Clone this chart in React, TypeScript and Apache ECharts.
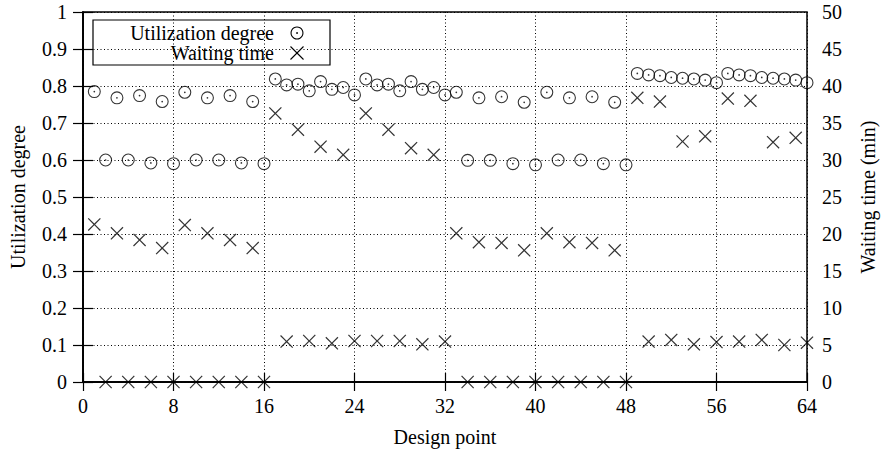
import React, { useEffect, useRef } from "react";
import * as echarts from "echarts";

const designPoints = [
  1, 2, 3, 4, 5, 6, 7, 8, 9, 10, 11, 12, 13, 14, 15, 16,
  17, 18, 19, 20, 21, 22, 23, 24, 25, 26, 27, 28, 29, 30, 31, 32,
  33, 34, 35, 36, 37, 38, 39, 40, 41, 42, 43, 44, 45, 46, 47, 48,
  49, 50, 51, 52, 53, 54, 55, 56, 57, 58, 59, 60, 61, 62, 63, 64,
];

const utilization = [
  0.785, 0.6, 0.768, 0.6, 0.774, 0.592, 0.758, 0.59, 0.783, 0.6, 0.768, 0.6, 0.774, 0.592, 0.758, 0.59,
  0.819, 0.803, 0.805, 0.787, 0.812, 0.791, 0.796, 0.776, 0.819, 0.803, 0.805, 0.787, 0.812, 0.791, 0.796, 0.776,
  0.783, 0.599, 0.768, 0.599, 0.771, 0.59, 0.756, 0.587, 0.783, 0.6, 0.768, 0.6, 0.771, 0.59, 0.756, 0.587,
  0.834, 0.83, 0.828, 0.823, 0.821, 0.819, 0.816, 0.809, 0.834, 0.83, 0.828, 0.823, 0.821, 0.819, 0.816, 0.809,
];

const waitingTime = [
  21.3, 0, 20.1, 0, 19.2, 0, 18.1, 0, 21.2, 0, 20.1, 0, 19.2, 0, 18.1, 0,
  36.3, 5.46, 34.1, 5.54, 31.8, 5.23, 30.7, 5.54, 36.3, 5.54, 34.1, 5.54, 31.6, 5.09, 30.7, 5.46,
  20.1, 0, 18.9, 0, 18.8, 0, 17.8, 0, 20.1, 0, 18.9, 0, 18.8, 0, 17.8, 0,
  38.4, 5.46, 37.9, 5.68, 32.5, 5.09, 33.2, 5.4, 38.3, 5.46, 38.0, 5.68, 32.4, 5.0, 33.0, 5.32,
];

const FONT = "'Liberation Serif', 'DejaVu Serif', serif";
const FS = 20;

const ringPath =
  "path://M6 0A6 6 0 1 1 6 12A6 6 0 1 1 6 0ZM6 1A5 5 0 1 0 6 11A5 5 0 1 0 6 1ZM6 5.2A0.8 0.8 0 1 1 6 6.8A0.8 0.8 0 1 1 6 5.2Z";
const crossPath =
  "path://M0 0.8L0.8 0L6 5.2L11.2 0L12 0.8L6.8 6L12 11.2L11.2 12L6 6.8L0.8 12L0 11.2L5.2 6Z";

export default function App() {
  const ref = useRef<HTMLDivElement>(null);

  useEffect(() => {
    if (!ref.current) return;
    const chart = echarts.init(ref.current, undefined, { renderer: "svg" });
    const dotted = { type: [1, 2.5] as any, color: "#000", width: 1 };
    const labelStyle = { color: "#000", fontFamily: FONT, fontSize: FS };
    const nameStyle = { color: "#000", fontFamily: FONT, fontSize: FS };
    const axisLine = { show: true, lineStyle: { color: "#000", width: 1.5 } };
    const tick = (len: number) => ({
      show: true,
      inside: true,
      length: len,
      lineStyle: { color: "#000", width: 1.2 },
    });

    chart.setOption({
      animation: false,
      backgroundColor: "#fff",
      grid: {
        left: 83,
        right: 75,
        top: 12,
        bottom: 69,
        show: true,
        borderColor: "#000",
        borderWidth: 1.5,
        containLabel: false,
      },
      xAxis: [
        {
          type: "value",
          min: 0,
          max: 64,
          interval: 8,
          position: "bottom",
          axisLine,
          axisTick: tick(9),
          axisLabel: { ...labelStyle, margin: 14 },
          splitLine: { show: true, lineStyle: dotted },
          name: "Design point",
          nameLocation: "middle",
          nameGap: 45,
          nameTextStyle: nameStyle,
        },
        {
          type: "value",
          min: 0,
          max: 64,
          interval: 8,
          position: "top",
          axisLine,
          axisTick: tick(9),
          axisLabel: { show: false },
          splitLine: { show: false },
        },
      ],
      yAxis: [
        {
          type: "value",
          min: 0,
          max: 1,
          interval: 0.1,
          position: "left",
          axisLine,
          axisTick: tick(10),
          axisLabel: { ...labelStyle, margin: 16 },
          splitLine: { show: true, lineStyle: dotted },
          name: "Utilization degree",
          nameLocation: "middle",
          nameRotate: 90,
          nameGap: 55,
          nameTextStyle: nameStyle,
        },
        {
          type: "value",
          min: 0,
          max: 50,
          interval: 5,
          position: "right",
          axisLine,
          axisTick: tick(10),
          axisLabel: { ...labelStyle, margin: 15 },
          splitLine: { show: false },
          name: "Waiting time (min)",
          nameLocation: "middle",
          nameRotate: 90,
          nameGap: 51,
          nameTextStyle: nameStyle,
        },
      ],
      series: [
        {
          name: "Utilization degree",
          type: "scatter",
          xAxisIndex: 0,
          yAxisIndex: 0,
          symbol: ringPath,
          symbolSize: 13,
          clip: false,
          itemStyle: { color: "#000" },
          data: designPoints.map((d, i) => [d, utilization[i]]),
          z: 5,
        },
        {
          name: "Waiting time",
          type: "scatter",
          xAxisIndex: 0,
          yAxisIndex: 1,
          symbol: crossPath,
          symbolSize: 13,
          clip: false,
          itemStyle: { color: "#000" },
          data: designPoints.map((d, i) => [d, waitingTime[i]]),
          z: 5,
        },
      ],
      graphic: [
        {
          type: "group",
          z: 100,
          children: [
            {
              type: "rect",
              shape: { x: 93, y: 20, width: 237, height: 45 },
              style: { fill: "#fff", stroke: "#000", lineWidth: 1.2 },
            },
            {
              type: "text",
              x: 274,
              y: 33,
              style: {
                text: "Utilization degree",
                align: "right",
                verticalAlign: "middle",
                fill: "#000",
                font: `${FS}px ${FONT}`,
              },
            },
            {
              type: "text",
              x: 274,
              y: 53,
              style: {
                text: "Waiting time",
                align: "right",
                verticalAlign: "middle",
                fill: "#000",
                font: `${FS}px ${FONT}`,
              },
            },
            {
              type: "ring",
              shape: { cx: 297, cy: 33, r: 6.5, r0: 5.4 },
              style: { fill: "#000" },
            },
            {
              type: "circle",
              shape: { cx: 297, cy: 33, r: 0.9 },
              style: { fill: "#000" },
            },
            {
              type: "line",
              shape: { x1: 290.5, y1: 46.5, x2: 303.5, y2: 59.5 },
              style: { stroke: "#000", lineWidth: 1.1 },
            },
            {
              type: "line",
              shape: { x1: 303.5, y1: 46.5, x2: 290.5, y2: 59.5 },
              style: { stroke: "#000", lineWidth: 1.1 },
            },
          ],
        },
      ],
    });
    return () => chart.dispose();
  }, []);

  return (
    <div
      ref={ref}
      style={{ position: "absolute", left: 0, top: 0, width: 886, height: 452 }}
    />
  );
}
